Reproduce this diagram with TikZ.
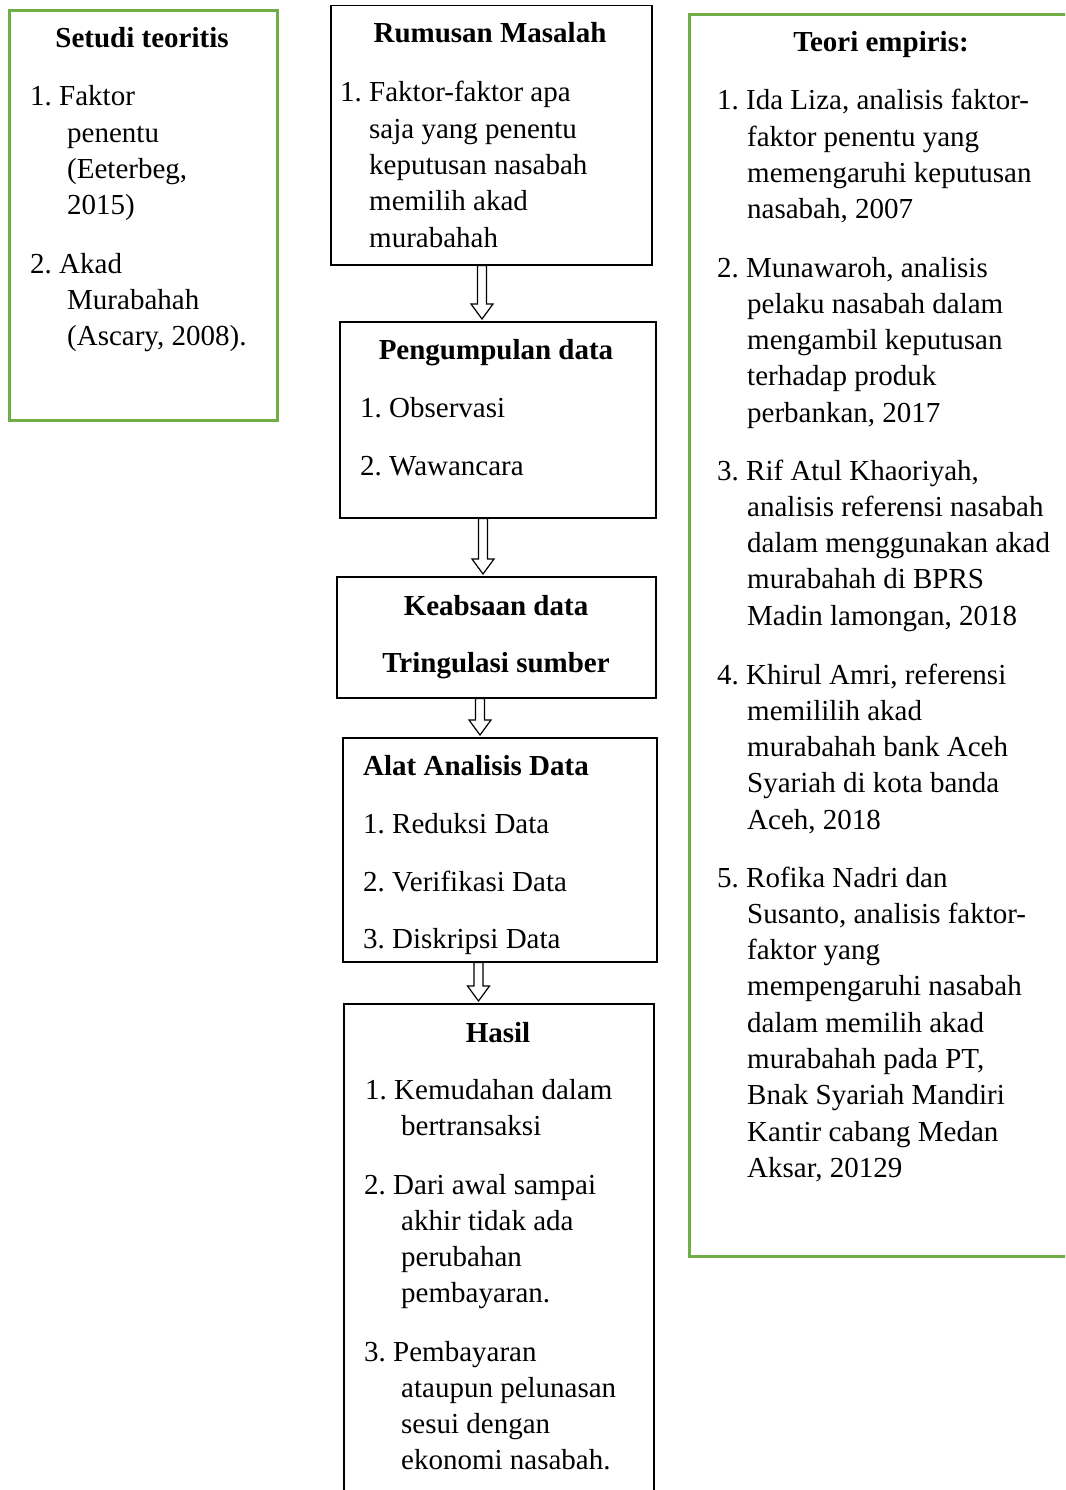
\documentclass[tikz,border=0pt]{standalone}
\usepackage{fontspec}
\setmainfont{Liberation Serif}
\usepackage{xcolor}
\usetikzlibrary{calc}
\definecolor{boxgreen}{HTML}{70AD47}
\frenchspacing
% one list entry: first line at x1, further lines at x2
\newcommand{\entry}[6]{\node[txt] (#1) at (#2,#4) {#5};
  \foreach \t [count=\i] in {#6} \node[txt] (#1-\i) at (#3,{#4+36.3*\i}) {\t};}
% hollow block arrow at x from one node anchor to another
\newcommand{\hollowarrow}[3]{\draw[blockarrow] let \p1=(#2), \p2=(#3) in
  ({#1pt-4.5pt},\y1) -- ({#1pt+4.5pt},\y1) -- ({#1pt+4.5pt},\y2+17pt) -- ({#1pt+11pt},\y2+17pt)
  -- ({#1pt},\y2+2pt) -- ({#1pt-11pt},\y2+17pt) -- ({#1pt-4.5pt},\y2+17pt) -- cycle;}

\begin{document}
\begin{tikzpicture}[x=1pt,y=-1pt,
  txt/.style={anchor=base west,inner sep=0pt,font=\fontsize{29}{36.3}\selectfont},
  ttl/.style={txt,anchor=base,font=\fontsize{29}{36.3}\selectfont\bfseries},
  blackbox/.style={draw=black,line width=1.5pt,anchor=north west,inner sep=0pt},
  greenbox/.style={draw=boxgreen,line width=2.6pt,anchor=north west,inner sep=0pt},
  blockarrow/.style={draw=black,fill=white,line width=1.2pt,line join=miter}]
\useasboundingbox (0,0) rectangle (1065,1490);
\clip (0,0) rectangle (1065,1490);
% boxes
\node[greenbox,minimum width=268pt,minimum height=410pt] (teori) at (8,9) {};
\node[blackbox,minimum width=321pt,minimum height=259pt] (rumusan) at (330,5) {};
\node[blackbox,minimum width=316pt,minimum height=196pt] (kumpul) at (339,321) {};
\node[blackbox,minimum width=319pt,minimum height=121pt] (absah) at (336,576) {};
\node[blackbox,minimum width=314pt,minimum height=224pt] (alat) at (342,737) {};
\node[blackbox,minimum width=310pt,minimum height=540pt] (hasil) at (343,1003) {};
\node[greenbox,minimum width=420pt,minimum height=1242pt] (empiris) at (688,13) {};
% arrows
\hollowarrow{482}{rumusan.south}{kumpul.north}
\hollowarrow{483}{kumpul.south}{absah.north}
\hollowarrow{480}{absah.south}{alat.north}
\hollowarrow{478.5}{alat.south}{hasil.north}
% setudi teoritis
\node[ttl] (teori-t) at (142,48) {Setudi teoritis};
\entry{s1}{30}{67}{106}{1. Faktor}{penentu, {(Eeterbeg,}, 2015)}
\entry{s2}{30}{67}{273}{2. Akad}{Murabahah, {(Ascary, 2008).}}
% rumusan masalah
\node[ttl] (rumusan-t) at (490,43) {Rumusan Masalah};
\entry{r1}{340}{369}{102}{1. Faktor-faktor apa}{saja yang penentu, keputusan nasabah, memilih akad, murabahah}
% pengumpulan data
\node[ttl] (kumpul-t) at (496,359) {Pengumpulan data};
\node[txt] (k1) at (360,417) {1. Observasi};
\node[txt] (k2) at (360,475) {2. Wawancara};
% keabsaan data
\node[ttl] (absah-t) at (496,615) {Keabsaan data};
\node[ttl] (absah-s) at (496,672) {Tringulasi sumber};
% alat analisis
\node[txt,font=\fontsize{29}{36.3}\selectfont\bfseries] (alat-t) at (363,775) {Alat Analisis Data};
\node[txt] (a1) at (363,833) {1. Reduksi Data};
\node[txt] (a2) at (363,891) {2. Verifikasi Data};
\node[txt] (a3) at (363,948) {3. Diskripsi Data};
% hasil
\node[ttl] (hasil-t) at (498,1042) {Hasil};
\entry{h1}{365}{401}{1099}{1. Kemudahan dalam}{bertransaksi}
\entry{h2}{364}{401}{1194}{2. Dari awal sampai}{akhir tidak ada, perubahan, pembayaran.}
\entry{h3}{364}{401}{1361}{3. Pembayaran}{ataupun pelunasan, sesui dengan, ekonomi nasabah.}
% teori empiris
\node[ttl] (empiris-t) at (881,52) {Teori empiris:};
\entry{e1}{717}{747}{110}{1. Ida Liza, analisis faktor-}{faktor penentu yang, memengaruhi keputusan, {nasabah, 2007}}
\entry{e2}{717}{747}{277}{2. Munawaroh, analisis}{pelaku nasabah dalam, mengambil keputusan, terhadap produk, {perbankan, 2017}}
\entry{e3}{717}{747}{480}{3. Rif Atul Khaoriyah,}{analisis referensi nasabah, dalam menggunakan akad, murabahah di BPRS, {Madin lamongan, 2018}}
\entry{e4}{717}{747}{684}{4. Khirul Amri, referensi}{memililih akad, murabahah bank Aceh, Syariah di kota banda, {Aceh, 2018}}
\entry{e5}{717}{747}{887}{5. Rofika Nadri dan}{{Susanto, analisis faktor-}, faktor yang, mempengaruhi nasabah, dalam memilih akad, {murabahah pada PT,}, Bnak Syariah Mandiri, Kantir cabang Medan, {Aksar, 20129}}
\end{tikzpicture}
\end{document}
